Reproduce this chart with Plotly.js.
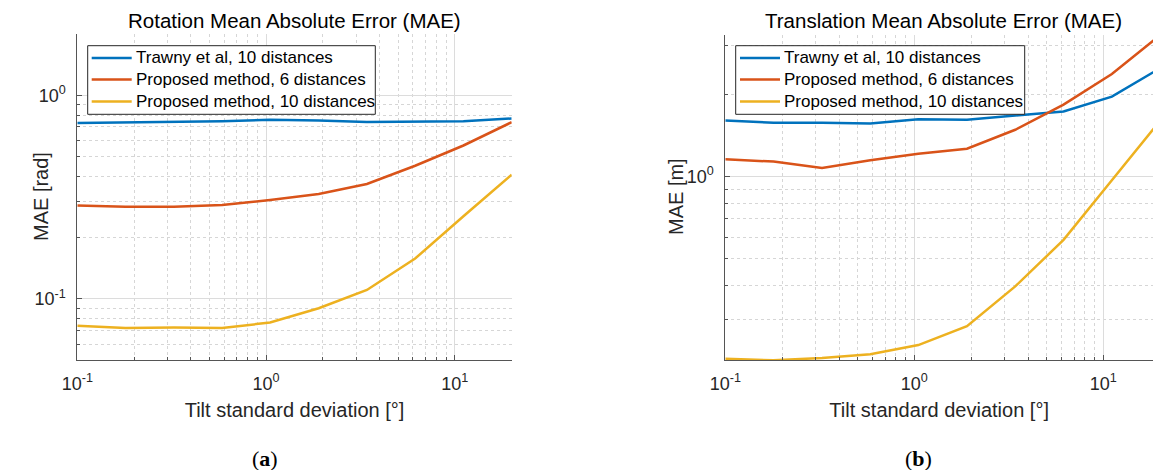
<!DOCTYPE html>
<html>
<head>
<meta charset="utf-8">
<script src="https://cdn.plot.ly/plotly-3.0.1.min.js"></script>
<style>
html,body{margin:0;padding:0;background:#fff;}
#chart{width:1153px;height:470px;}
</style>
</head>
<body>
<div id="chart"></div>
<script>
// ---- data ----
const tiltStd = [0.1, 0.18, 0.325, 0.585, 1.05, 1.9, 3.42, 6.16, 11.1, 20];

const rotTrawny10   = [0.732, 0.737, 0.745, 0.745, 0.758, 0.753, 0.740, 0.740, 0.745, 0.770];
const rotProposed6  = [0.288, 0.284, 0.284, 0.289, 0.306, 0.328, 0.367, 0.451, 0.567, 0.738];
const rotProposed10 = [0.0738, 0.0721, 0.0724, 0.0721, 0.0766, 0.0901, 0.1107, 0.158, 0.255, 0.408];

const transTrawny10   = [1.602, 1.572, 1.572, 1.563, 1.620, 1.612, 1.671, 1.728, 1.959, 2.489];
const transProposed6  = [1.156, 1.134, 1.075, 1.146, 1.212, 1.264, 1.482, 1.832, 2.369, 3.29];
const transProposed10 = [0.216, 0.213, 0.2172, 0.224, 0.2421, 0.2838, 0.3968, 0.5866, 0.9695, 1.602];

const seriesNames = ['Trawny et al, 10 distances', 'Proposed method, 6 distances', 'Proposed method, 10 distances'];
const seriesColors = ['#0072BD', '#D95319', '#EDB120'];

const xTickVals = [0.1, 1, 10];
const xTickText = ['10<sup>-1</sup>', '10<sup>0</sup>', '10<sup>1</sup>'];
const rotYTickVals = [0.1, 1];
const rotYTickText = ['10<sup>-1</sup>', '10<sup>0</sup>'];
const transYTickVals = [1];
const transYTickText = ['10<sup>0</sup>'];

const titleRot = 'Rotation Mean Absolute Error (MAE)';
const titleTrans = 'Translation Mean Absolute Error (MAE)';
const xLabel = 'Tilt standard deviation [°]';
const yLabelRot = 'MAE [rad]';
const yLabelTrans = 'MAE [m]';

// ---- styling / layout ----
const FONT = 'Liberation Sans, Arial, Helvetica, sans-serif';
const W = 1153, H = 470;
const px = v => v / W;
const py = v => (H - v) / H;

function minorVals(lo, hi) {
  const v = [];
  for (let e = Math.floor(Math.log10(lo)) - 1; e <= Math.ceil(Math.log10(hi)); e++) {
    for (let k = 2; k <= 9; k++) {
      const val = k * Math.pow(10, e);
      if (val >= lo * 0.999 && val <= hi * 1.001) v.push(val);
    }
  }
  return v;
}

function logAxis(extra, lo, hi) {
  return Object.assign({
    type: 'log',
    showline: true, linecolor: '#555555', linewidth: 1, mirror: false,
    ticks: 'inside', ticklen: 5, tickcolor: '#555555', tickwidth: 1,
    tickmode: 'array',
    showgrid: true, gridcolor: '#dcdcdc', gridwidth: 1,
    zeroline: false,
    ticklabelstandoff: 7,
    tickfont: {family: FONT, size: 18, color: '#262626'},
    minor: {
      tickmode: 'array', tickvals: minorVals(lo, hi),
      ticks: 'inside', ticklen: 3, tickcolor: '#555555',
      showgrid: true, gridcolor: '#d6d6d6', griddash: 'dot', gridwidth: 1
    },
    fixedrange: true
  }, extra);
}

function makeTraces(ys, xa, ya) {
  return ys.map((y, i) => ({
    x: tiltStd, y: y, type: 'scatter', mode: 'lines',
    name: seriesNames[i], xaxis: xa, yaxis: ya, showlegend: false,
    line: {color: seriesColors[i], width: 2.5}
  }));
}

const traces = [
  ...makeTraces([rotTrawny10, rotProposed6, rotProposed10], 'x', 'y'),
  ...makeTraces([transTrawny10, transProposed6, transProposed10], 'x2', 'y2')
];

const allTrans = transTrawny10.concat(transProposed6, transProposed10);
const transMin = Math.min(...allTrans), transMax = Math.max(...allTrans);

// hand-drawn legend boxes (MATLAB style)
const shapes = [];
const annotations = [];
function addLegend(boxL, boxR, boxT, boxB, lineL, lineR, textL, rowY) {
  shapes.push({type: 'rect', xref: 'paper', yref: 'paper', layer: 'above',
    x0: px(boxL), x1: px(boxR), y0: py(boxB), y1: py(boxT),
    fillcolor: '#ffffff', line: {color: '#262626', width: 1}});
  seriesNames.forEach((nm, i) => {
    shapes.push({type: 'line', xref: 'paper', yref: 'paper', layer: 'above',
      x0: px(lineL), x1: px(lineR), y0: py(rowY[i]), y1: py(rowY[i]),
      line: {color: seriesColors[i], width: 2.5}});
    annotations.push({text: nm, xref: 'paper', yref: 'paper', x: px(textL), y: py(rowY[i]),
      xanchor: 'left', yanchor: 'middle', showarrow: false,
      font: {family: FONT, size: 17, color: '#000000'}});
  });
}
addLegend(87.7, 375.3, 45.7, 114.3, 91.7, 131.7, 133.5, [57.9, 79.6, 101.5]);
addLegend(735.7, 1024.7, 45.7, 114.3, 740, 780, 781.5, [57.9, 79.6, 101.5]);

annotations.push(
  {text: titleRot, xref: 'paper', yref: 'paper', x: px(294.5), y: py(20.5), xanchor: 'center', yanchor: 'middle',
   showarrow: false, font: {family: FONT, size: 20.5, color: '#000000'}},
  {text: titleTrans, xref: 'paper', yref: 'paper', x: px(943), y: py(20.5), xanchor: 'center', yanchor: 'middle',
   showarrow: false, font: {family: FONT, size: 20.5, color: '#000000'}},
  {text: yLabelRot, xref: 'paper', yref: 'paper', x: px(41), y: py(197), xanchor: 'center', yanchor: 'middle',
   textangle: -90, showarrow: false, font: {family: FONT, size: 20, color: '#262626'}},
  {text: yLabelTrans, xref: 'paper', yref: 'paper', x: px(676), y: py(197), xanchor: 'center', yanchor: 'middle',
   textangle: -90, showarrow: false, font: {family: FONT, size: 20, color: '#262626'}},
  {text: '(<b>a</b>)', xref: 'paper', yref: 'paper', x: px(265), y: py(458), xanchor: 'center', yanchor: 'middle',
   showarrow: false, font: {family: 'Liberation Serif, DejaVu Serif, serif', size: 22, color: '#000000'}},
  {text: '(<b>b</b>)', xref: 'paper', yref: 'paper', x: px(918), y: py(458), xanchor: 'center', yanchor: 'middle',
   showarrow: false, font: {family: 'Liberation Serif, DejaVu Serif, serif', size: 22, color: '#000000'}}
);

const layout = {
  width: W, height: H,
  margin: {l: 0, r: 0, t: 0, b: 0},
  paper_bgcolor: '#ffffff', plot_bgcolor: '#ffffff',
  font: {family: FONT, color: '#262626'},
  showlegend: false,
  xaxis: logAxis({
    domain: [px(77.3), px(511.7)], anchor: 'y',
    range: [-1, Math.log10(20)],
    tickvals: xTickVals, ticktext: xTickText,
    title: {text: xLabel, font: {family: FONT, size: 20, color: '#262626'}, standoff: 10}
  }, 0.1, 20),
  yaxis: logAxis({
    domain: [py(360.3), py(34)], anchor: 'x',
    range: [Math.log10(0.05), Math.log10(2)],
    tickvals: rotYTickVals, ticktext: rotYTickText
  }, 0.05, 2),
  xaxis2: logAxis({
    domain: [px(725.3), 1], anchor: 'y2',
    range: [-1, 1.263],
    tickvals: xTickVals, ticktext: xTickText,
    title: {text: xLabel, font: {family: FONT, size: 20, color: '#262626'}, standoff: 10}
  }, 0.1, 20),
  yaxis2: logAxis({
    domain: [py(360.3), py(35)], anchor: 'x2',
    range: [Math.log10(transMin), Math.log10(transMax)],
    tickvals: transYTickVals, ticktext: transYTickText
  }, transMin, transMax),
  shapes: shapes,
  annotations: annotations
};

Plotly.newPlot('chart', traces, layout, {staticPlot: true, displayModeBar: false});
</script>
</body>
</html>
